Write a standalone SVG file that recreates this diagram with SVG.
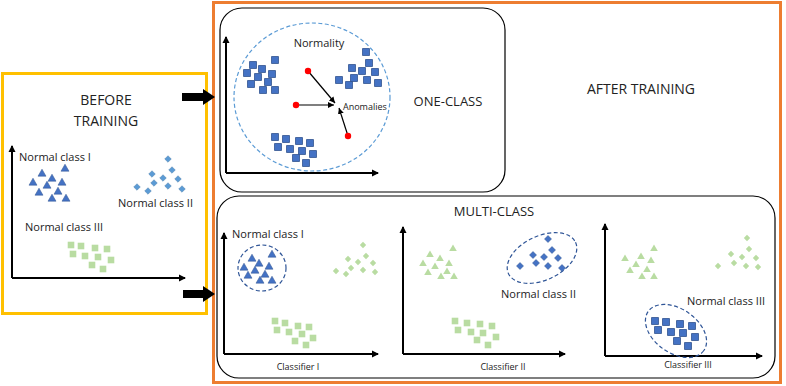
<svg xmlns="http://www.w3.org/2000/svg" xmlns:xlink="http://www.w3.org/1999/xlink" width="786" height="386" viewBox="0 0 786 386">
<style>
text{font-family:"Open Sans","Liberation Sans",sans-serif;fill:#222}
.H{font-size:14px}
.h{font-size:13px}
.l{font-size:11px}
.s{font-size:9px}
.ax{stroke:#000;stroke-width:2;fill:none;marker-end:url(#ah)}
.box{fill:none;stroke:#000;stroke-width:1.2}
.dk{fill:none;stroke:#2F5597;stroke-width:1.2;stroke-dasharray:4 2.5}
.lt{fill:none;stroke:#5B9BD5;stroke-width:1.2;stroke-dasharray:4 2.5}
</style>
<defs>
<marker id="ah" markerWidth="8" markerHeight="8" refX="6" refY="4" orient="auto" markerUnits="userSpaceOnUse"><path d="M0,0.5 L7,4 L0,7.5 Z" fill="#000"/></marker>
<marker id="ah2" markerWidth="7" markerHeight="7" refX="6" refY="3.5" orient="auto" markerUnits="userSpaceOnUse"><path d="M0,0.5 L6,3.5 L0,6.5 Z" fill="#000"/></marker>
<rect id="sqB" x="-3.4" y="-3.4" width="6.8" height="6.8" fill="#4472C4" stroke="#2F528F" stroke-width="0.8"/>
<rect id="sqG" x="-3.3" y="-3.3" width="6.6" height="6.6" fill="#B9DCA2"/>
<polygon id="trB" points="0,-3.8 4,3.2 -4,3.2" fill="#4472C4" stroke="#2F528F" stroke-width="0.5"/>
<polygon id="trG" points="0,-3.6 3.8,3 -3.8,3" fill="#B9DCA2"/>
<polygon id="diL" points="0,-3.3 3.3,0 0,3.3 -3.3,0" fill="#5B9BD5" stroke="#41719C" stroke-width="0.4"/>
<polygon id="diB" points="0,-3.5 3.5,0 0,3.5 -3.5,0" fill="#4472C4" stroke="#2F528F" stroke-width="0.5"/>
<polygon id="diG" points="0,-3.2 3.2,0 0,3.2 -3.2,0" fill="#B9DCA2"/>
</defs>
<rect width="786" height="386" fill="#fff"/>

<g id="before">
<rect x="2.5" y="73.5" width="204" height="240" fill="none" stroke="#FFC000" stroke-width="3"/>
<text class="H" x="106" y="105" text-anchor="middle">BEFORE</text>
<text class="H" x="106" y="126" text-anchor="middle">TRAINING</text>
<path class="ax" d="M12,278 V146"/>
<path class="ax" d="M12,278 H185"/>
<text class="l" x="19" y="161">Normal class I</text>
<use href="#trB" x="42" y="173"/><use href="#trB" x="65" y="168"/><use href="#trB" x="33" y="182"/><use href="#trB" x="52" y="178"/><use href="#trB" x="47" y="185"/><use href="#trB" x="62" y="182"/><use href="#trB" x="39" y="192"/><use href="#trB" x="58" y="191"/><use href="#trB" x="52" y="198"/><use href="#trB" x="66" y="198"/>
<use href="#diL" x="168" y="159"/><use href="#diL" x="172" y="170"/><use href="#diL" x="152" y="174"/><use href="#diL" x="163" y="178"/><use href="#diL" x="178" y="179"/><use href="#diL" x="154" y="183"/><use href="#diL" x="137" y="187"/><use href="#diL" x="168" y="186"/><use href="#diL" x="148" y="191"/><use href="#diL" x="182" y="189"/>
<text class="l" x="118" y="207">Normal class II</text>
<text class="l" x="25" y="231">Normal class III</text>
<use href="#sqG" x="71" y="245"/><use href="#sqG" x="81" y="246"/><use href="#sqG" x="95" y="248"/><use href="#sqG" x="107" y="249"/><use href="#sqG" x="73" y="254"/><use href="#sqG" x="85" y="256"/><use href="#sqG" x="98" y="257"/><use href="#sqG" x="111" y="260"/><use href="#sqG" x="92" y="265"/><use href="#sqG" x="103" y="269"/>
</g>

<g id="after">
<rect x="213.5" y="2.5" width="567" height="380" fill="none" stroke="#ED7D31" stroke-width="3"/>
<text class="H" x="641" y="94" text-anchor="middle">AFTER TRAINING</text>
</g>

<g id="one-class">
<rect class="box" x="220" y="8" width="285" height="184" rx="22"/>
<ellipse class="lt" cx="312" cy="97" rx="78" ry="74"/>
<path class="ax" d="M226,173 V37"/>
<path class="ax" d="M226,173 H378"/>
<text class="l" x="319" y="47" text-anchor="middle">Normality</text>
<use href="#sqB" x="253" y="65"/><use href="#sqB" x="275" y="60"/><use href="#sqB" x="247" y="73"/><use href="#sqB" x="262" y="69"/><use href="#sqB" x="272" y="74"/><use href="#sqB" x="258" y="77"/><use href="#sqB" x="251" y="84"/><use href="#sqB" x="268" y="82"/><use href="#sqB" x="263" y="90"/><use href="#sqB" x="275" y="90"/>
<use href="#sqB" x="366" y="52"/><use href="#sqB" x="369" y="63"/><use href="#sqB" x="352" y="68"/><use href="#sqB" x="362" y="71"/><use href="#sqB" x="375" y="72"/><use href="#sqB" x="339" y="80"/><use href="#sqB" x="354" y="78"/><use href="#sqB" x="367" y="80"/><use href="#sqB" x="378" y="83"/><use href="#sqB" x="349" y="85"/>
<use href="#sqB" x="275" y="137"/><use href="#sqB" x="286" y="139"/><use href="#sqB" x="299" y="141"/><use href="#sqB" x="310" y="143"/><use href="#sqB" x="278" y="147"/><use href="#sqB" x="290" y="149"/><use href="#sqB" x="302" y="151"/><use href="#sqB" x="313" y="154"/><use href="#sqB" x="296" y="158"/><use href="#sqB" x="306" y="163"/>
<path d="M308,71 L335,103" stroke="#000" stroke-width="1.2" marker-end="url(#ah2)"/>
<path d="M296,105 L334,105" stroke="#000" stroke-width="1.2" marker-end="url(#ah2)"/>
<path d="M348,136 L339,108" stroke="#000" stroke-width="1.2" marker-end="url(#ah2)"/>
<circle cx="308" cy="71" r="3.2" fill="#F00"/>
<circle cx="296" cy="105" r="3.2" fill="#F00"/>
<circle cx="348" cy="136" r="3.2" fill="#F00"/>
<text class="s" x="343" y="110">Anomalies</text>
<text class="h" x="448" y="106" text-anchor="middle">ONE-CLASS</text>
</g>

<g id="multi-class">
<rect class="box" x="217" y="196" width="558" height="182" rx="22"/>
<text class="h" x="494" y="216" text-anchor="middle">MULTI-CLASS</text>
</g>

<g id="classifier-1">
<path class="ax" d="M224,354 V233"/>
<path class="ax" d="M224,354 H378"/>
<text class="l" x="232" y="238">Normal class I</text>
<ellipse class="dk" cx="262" cy="268" rx="24" ry="23"/>
<use href="#trB" x="252" y="258"/><use href="#trB" x="272" y="254"/><use href="#trB" x="244" y="267"/><use href="#trB" x="259" y="263"/><use href="#trB" x="269" y="266"/><use href="#trB" x="255" y="270"/><use href="#trB" x="248" y="275"/><use href="#trB" x="265" y="274"/><use href="#trB" x="260" y="280"/><use href="#trB" x="272" y="280"/>
<use href="#diG" x="363" y="245"/><use href="#diG" x="348" y="259"/><use href="#diG" x="366" y="256"/><use href="#diG" x="358" y="262"/><use href="#diG" x="373" y="263"/><use href="#diG" x="336" y="271"/><use href="#diG" x="351" y="268"/><use href="#diG" x="346" y="274"/><use href="#diG" x="363" y="270"/><use href="#diG" x="375" y="272"/>
<use href="#sqG" x="275" y="321"/><use href="#sqG" x="285" y="323"/><use href="#sqG" x="298" y="326"/><use href="#sqG" x="309" y="327"/><use href="#sqG" x="277" y="330"/><use href="#sqG" x="289" y="332"/><use href="#sqG" x="302" y="334"/><use href="#sqG" x="313" y="338"/><use href="#sqG" x="295" y="341"/><use href="#sqG" x="306" y="345"/>
<text class="s" x="298" y="370" text-anchor="middle">Classifier I</text>
</g>

<g id="classifier-2">
<path class="ax" d="M403,354 V227"/>
<path class="ax" d="M403,354 H565"/>
<use href="#trG" x="430" y="254"/><use href="#trG" x="453" y="248"/><use href="#trG" x="423" y="263"/><use href="#trG" x="440" y="258"/><use href="#trG" x="449" y="263"/><use href="#trG" x="435" y="266"/><use href="#trG" x="428" y="272"/><use href="#trG" x="447" y="271"/><use href="#trG" x="441" y="276"/><use href="#trG" x="454" y="276"/>
<ellipse class="dk" cx="542" cy="258" rx="37" ry="22" transform="rotate(-25 542 258)"/>
<use href="#diB" x="548" y="239"/><use href="#diB" x="552" y="250"/><use href="#diB" x="533" y="255"/><use href="#diB" x="544" y="257"/><use href="#diB" x="558" y="258"/><use href="#diB" x="520" y="266"/><use href="#diB" x="536" y="263"/><use href="#diB" x="548" y="266"/><use href="#diB" x="562" y="268"/>
<text class="l" x="501" y="298">Normal class II</text>
<use href="#sqG" x="455" y="321"/><use href="#sqG" x="467" y="323"/><use href="#sqG" x="480" y="324"/><use href="#sqG" x="492" y="326"/><use href="#sqG" x="458" y="330"/><use href="#sqG" x="471" y="332"/><use href="#sqG" x="483" y="333"/><use href="#sqG" x="496" y="337"/><use href="#sqG" x="477" y="340"/><use href="#sqG" x="488" y="345"/>
<text class="s" x="503" y="370" text-anchor="middle">Classifier II</text>
</g>

<g id="classifier-3">
<path class="ax" d="M605,356 V224"/>
<path class="ax" d="M605,356 H762"/>
<use href="#trG" x="654" y="248"/><use href="#trG" x="625" y="258"/><use href="#trG" x="641" y="256"/><use href="#trG" x="651" y="260"/><use href="#trG" x="636" y="264"/><use href="#trG" x="630" y="270"/><use href="#trG" x="647" y="269"/><use href="#trG" x="642" y="276"/><use href="#trG" x="654" y="276"/>
<use href="#diG" x="747" y="238"/><use href="#diG" x="749" y="249"/><use href="#diG" x="731" y="254"/><use href="#diG" x="742" y="257"/><use href="#diG" x="756" y="258"/><use href="#diG" x="718" y="266"/><use href="#diG" x="734" y="263"/><use href="#diG" x="746" y="266"/><use href="#diG" x="758" y="267"/>
<text class="l" x="687" y="305">Normal class III</text>
<ellipse class="dk" cx="676" cy="331" rx="34" ry="22" transform="rotate(35 676 331)"/>
<use href="#sqB" x="655" y="321"/><use href="#sqB" x="666" y="322"/><use href="#sqB" x="680" y="324"/><use href="#sqB" x="692" y="326"/><use href="#sqB" x="658" y="330"/><use href="#sqB" x="671" y="332"/><use href="#sqB" x="683" y="333"/><use href="#sqB" x="695" y="337"/><use href="#sqB" x="677" y="341"/><use href="#sqB" x="688" y="346"/>
<text class="s" x="688" y="368" text-anchor="middle">Classifier III</text>
</g>

<g id="connectors">
<polygon points="182,93 203,93 203,89 215,97 203,105 203,101 182,101" fill="#000"/>
<polygon points="183,290 203,290 203,286 215,294 203,302 203,298 183,298" fill="#000"/>
</g>
</svg>
